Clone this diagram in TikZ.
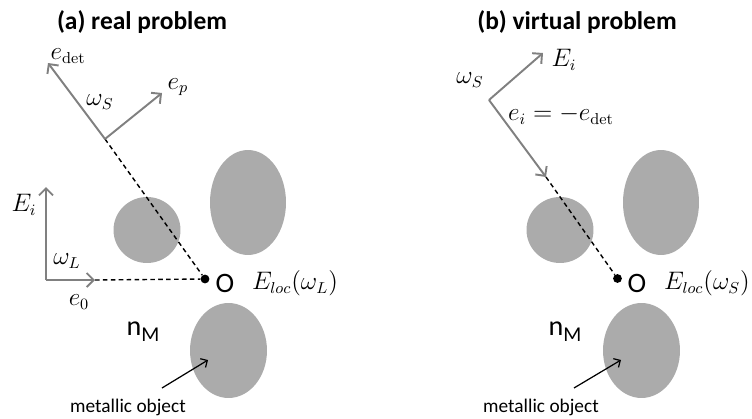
\documentclass[tikz,border=0pt]{standalone}
\usepackage[no-math]{fontspec}
\setmainfont{Carlito}
\usetikzlibrary{shapes.geometric,arrows.meta}
\definecolor{blobgray}{RGB}{171,171,171}
\definecolor{vecgray}{RGB}{128,128,128}
\tikzset{
	blob/.style={ellipse, fill=blobgray, inner sep=0pt},
	vecA/.style={draw=vecgray, line width=1.1pt, -{Straight Barb[length=4pt,width=8pt]}},
	rayA/.style={dash pattern=on 2.6pt off 1.9pt, line width=0.8pt},
	dotA/.style={fill, circle, inner sep=0pt, minimum size=5pt},
	labA/.style={inner sep=0pt, font={\fontsize{13.5}{15}\selectfont}},
	titleA/.style={inner sep=0pt, font={\fontsize{14.5}{17}\selectfont\bfseries}},
	txtA/.style={inner sep=0pt, font={\fontsize{16}{18}\selectfont}},
	smallA/.style={inner sep=0pt, font={\fontsize{11}{13}\selectfont}},
	>=Straight Barb,
}

\begin{document}
\begin{tikzpicture}[x=0.02cm, y=-0.02cm]
\useasboundingbox (0,0) rectangle (752,419);
% (a) real problem
\node[titleA] (ta) at (142,22) {(a) real problem};
\node[blob, minimum width=1.34cm, minimum height=1.32cm] (a-sm) at (147,230) {};
\node[blob, minimum width=1.52cm, minimum height=2.1cm] (a-up) at (248,202.5) {};
\node[blob, minimum width=1.54cm, minimum height=1.9cm] (a-lo) at (228.5,350.5) {};
\coordinate (a-s) at (105,139);
\coordinate (a-det) at (48,63);
\coordinate (a-p) at (162,93);
\coordinate (a-i) at (46,280);
\coordinate (a-it) at (46,187);
\coordinate (a-0) at (95,280);
\node[dotA] (a-o) at (205,279) {};
\path (a-s) edge [rayA] (a-o);
\path (a-0) edge [rayA] (a-o);
\draw[vecA] (a-s) -- (a-det);
\draw[vecA] (a-s) -- (a-p);
\draw[vecA] (a-i) -- (a-it);
\draw[vecA] (a-i) -- (a-0);
\node[labA] (a-ldet) at (68,56) {$e_{\mathrm{det}}$};
\node[labA] (a-lws) at (100,102) {$\omega_S$};
\node[labA] (a-lp) at (178,87) {$e_p$};
\node[labA] (a-lE) at (24,205) {$E_i$};
\node[labA] (a-lwL) at (67,261) {$\omega_L$};
\node[labA] (a-l0) at (79,302) {$e_0$};
\node[txtA] (a-O) at (225,283) {O};
\node[labA] (a-loc) at (295,283) {$E_{loc}(\omega_L)$};
\node[txtA] (a-n) at (143,332) {n\raisebox{-0.45ex}{\fontsize{12}{13}\selectfont M}};
\node[smallA] (a-mo) at (128,407) {metallic object};
\coordinate (a-m) at (162,388);
\coordinate (a-mt) at (208,360);
\draw[->, line width=0.7pt] (a-m) -- (a-mt);
% (b) virtual problem
\node[titleA] (tb) at (577,22) {(b) virtual problem};
\node[blob, minimum width=1.34cm, minimum height=1.32cm] (b-sm) at (560,230) {};
\node[blob, minimum width=1.52cm, minimum height=2.1cm] (b-up) at (661,202.5) {};
\node[blob, minimum width=1.54cm, minimum height=1.9cm] (b-lo) at (641.5,350.5) {};
\coordinate (b-s) at (489,100);
\coordinate (b-E) at (543,53);
\coordinate (b-i) at (546,177);
\node[dotA] (b-o) at (617.5,278.5) {};
\path (b-i) edge [rayA] (b-o);
\draw[vecA] (b-s) -- (b-E);
\draw[vecA] (b-s) -- (b-i);
\node[labA] (b-lE) at (564,60) {$E_i$};
\node[labA] (b-lws) at (470,80) {$\omega_S$};
\node[labA] (b-li) at (561,115) {$e_i=-e_{\mathrm{det}}$};
\node[txtA] (b-O) at (637,283) {O};
\node[labA] (b-loc) at (707,283) {$E_{loc}(\omega_S)$};
\node[txtA] (b-n) at (565,332) {n\raisebox{-0.45ex}{\fontsize{12}{13}\selectfont M}};
\node[smallA] (b-mo) at (541,407) {metallic object};
\coordinate (b-m) at (574,388);
\coordinate (b-mt) at (621,360);
\draw[->, line width=0.7pt] (b-m) -- (b-mt);
\end{tikzpicture}
\end{document}
